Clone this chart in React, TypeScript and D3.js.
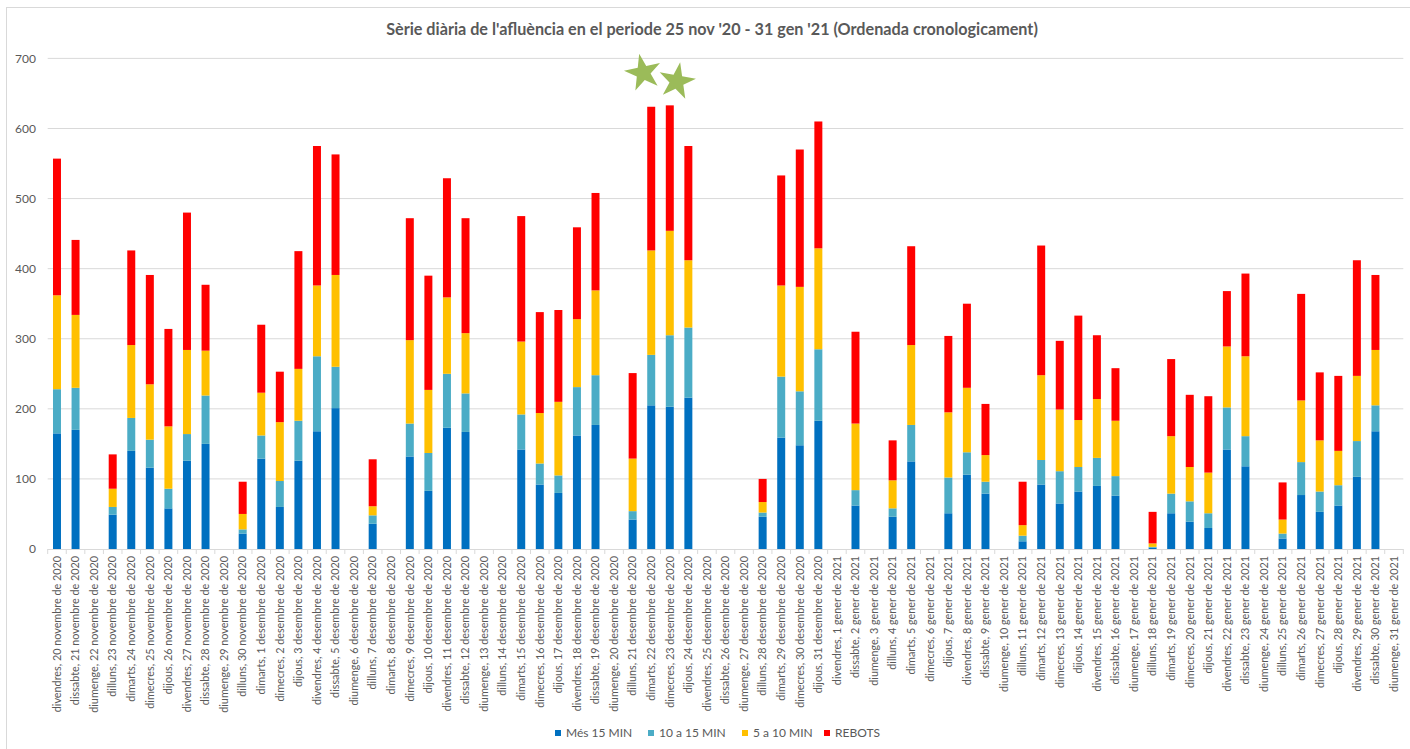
import React from "react";
import * as d3 from "d3";

const categories: string[] = [
  "divendres, 20 novembre de 2020", "dissabte, 21 novembre de 2020", "diumenge, 22 novembre de 2020",
  "dilluns, 23 novembre de 2020", "dimarts, 24 novembre de 2020", "dimecres, 25 novembre de 2020",
  "dijous, 26 novembre de 2020", "divendres, 27 novembre de 2020", "dissabte, 28 novembre de 2020",
  "diumenge, 29 novembre de 2020", "dilluns, 30 novembre de 2020",
  "dimarts, 1 desembre de 2020", "dimecres, 2 desembre de 2020", "dijous, 3 desembre de 2020",
  "divendres, 4 desembre de 2020", "dissabte, 5 desembre de 2020", "diumenge, 6 desembre de 2020",
  "dilluns, 7 desembre de 2020", "dimarts, 8 desembre de 2020", "dimecres, 9 desembre de 2020",
  "dijous, 10 desembre de 2020", "divendres, 11 desembre de 2020", "dissabte, 12 desembre de 2020",
  "diumenge, 13 desembre de 2020", "dilluns, 14 desembre de 2020", "dimarts, 15 desembre de 2020",
  "dimecres, 16 desembre de 2020", "dijous, 17 desembre de 2020", "divendres, 18 desembre de 2020",
  "dissabte, 19 desembre de 2020", "diumenge, 20 desembre de 2020", "dilluns, 21 desembre de 2020",
  "dimarts, 22 desembre de 2020", "dimecres, 23 desembre de 2020", "dijous, 24 desembre de 2020",
  "divendres, 25 desembre de 2020", "dissabte, 26 desembre de 2020", "diumenge, 27 desembre de 2020",
  "dilluns, 28 desembre de 2020", "dimarts, 29 desembre de 2020", "dimecres, 30 desembre de 2020",
  "dijous, 31 desembre de 2020",
  "divendres, 1 gener de 2021", "dissabte, 2 gener de 2021", "diumenge, 3 gener de 2021",
  "dilluns, 4 gener de 2021", "dimarts, 5 gener de 2021", "dimecres, 6 gener de 2021",
  "dijous, 7 gener de 2021", "divendres, 8 gener de 2021", "dissabte, 9 gener de 2021",
  "diumenge, 10 gener de 2021", "dilluns, 11 gener de 2021", "dimarts, 12 gener de 2021",
  "dimecres, 13 gener de 2021", "dijous, 14 gener de 2021", "divendres, 15 gener de 2021",
  "dissabte, 16 gener de 2021", "diumenge, 17 gener de 2021", "dilluns, 18 gener de 2021",
  "dimarts, 19 gener de 2021", "dimecres, 20 gener de 2021", "dijous, 21 gener de 2021",
  "divendres, 22 gener de 2021", "dissabte, 23 gener de 2021", "diumenge, 24 gener de 2021",
  "dilluns, 25 gener de 2021", "dimarts, 26 gener de 2021", "dimecres, 27 gener de 2021",
  "dijous, 28 gener de 2021", "divendres, 29 gener de 2021", "dissabte, 30 gener de 2021",
  "diumenge, 31 gener de 2021",
];

const mes15: number[] = [
  165, 170, 0, 49, 140, 116, 58, 126, 150, 0,
  22, 129, 60, 126, 168, 201, 0, 36, 0, 132,
  83, 173, 167, 0, 0, 142, 92, 80, 162, 177,
  0, 42, 205, 203, 216, 0, 0, 0, 46, 159,
  148, 183, 0, 62, 0, 46, 125, 0, 51, 106,
  79, 0, 11, 92, 65, 82, 90, 76, 0, 2,
  51, 39, 30, 142, 118, 0, 15, 77, 53, 62,
  103, 168, 0,
];
const de10a15: number[] = [
  63, 60, 0, 11, 47, 40, 28, 38, 69, 0,
  6, 33, 37, 57, 107, 59, 0, 12, 0, 47,
  54, 77, 55, 0, 0, 50, 30, 25, 69, 71,
  0, 12, 72, 102, 100, 0, 0, 0, 6, 87,
  77, 102, 0, 22, 0, 12, 52, 0, 51, 32,
  17, 0, 8, 35, 46, 35, 40, 28, 0, 1,
  28, 29, 21, 60, 43, 0, 7, 47, 29, 29,
  51, 37, 0,
];
const de5a10: number[] = [
  134, 104, 0, 26, 104, 79, 89, 120, 64, 0,
  22, 61, 84, 74, 101, 131, 0, 13, 0, 119,
  90, 109, 86, 0, 0, 104, 72, 105, 97, 121,
  0, 75, 149, 149, 96, 0, 0, 0, 15, 130,
  149, 144, 0, 95, 0, 40, 114, 0, 93, 92,
  38, 0, 15, 121, 88, 67, 84, 79, 0, 5,
  82, 49, 58, 87, 114, 0, 20, 88, 73, 49,
  93, 79, 0,
];
const rebots: number[] = [
  195, 107, 0, 49, 135, 156, 139, 196, 94, 0,
  46, 97, 72, 168, 199, 172, 0, 67, 0, 174,
  163, 170, 164, 0, 0, 179, 144, 131, 131, 139,
  0, 122, 205, 179, 163, 0, 0, 0, 33, 157,
  196, 181, 0, 131, 0, 57, 141, 0, 109, 120,
  73, 0, 62, 185, 98, 149, 91, 75, 0, 45,
  110, 103, 109, 79, 118, 0, 53, 152, 97, 107,
  165, 107, 0,
];

const seriesNames: string[] = ["Més 15 MIN", "10 a 15 MIN", "5 a 10 MIN", "REBOTS"];
const seriesColors: string[] = ["#0070C0", "#4BACC6", "#FFC000", "#FF0000"];
const yTicks: number[] = [0, 100, 200, 300, 400, 500, 600, 700];
const starredDays: string[] = ["dimarts, 22 desembre de 2020", "dimecres, 23 desembre de 2020"];

const title = "Sèrie diària de l'afluència en el periode 25 nov '20 - 31 gen '21 (Ordenada cronologicament)";

export default function App() {
  const W = 1410;
  const H = 749;
  const left = 47.7;
  const right = 1403.3;
  const top = 58.4;
  const bottom = 549;
  const font = "Lato, 'Open Sans', sans-serif";
  const grey = "#595959";

  const keys = ["a", "b", "c", "d"];
  const rows = categories.map((c, i) => ({
    cat: c,
    a: mes15[i],
    b: de10a15[i],
    c: de5a10[i],
    d: rebots[i],
  }));
  const stacked = d3.stack<any>().keys(keys)(rows);

  const x = d3.scaleBand<string>().domain(categories).range([left, right]).paddingInner(0.57).paddingOuter(0.285);
  const step = x.step();
  const y = d3.scaleLinear().domain([0, 700]).range([bottom, top]);

  const starPath = d3.symbol().type(d3.symbolStar).size(420)() as string;
  const starOffsets = [
    { dx: -8, dy: -34, rot: -12 },
    { dx: 7, dy: -24, rot: 10 },
  ];

  const legendX = [555, 648, 742, 824];

  return (
    <svg width={W} height={H} style={{ position: "absolute", left: 0, top: 0, background: "#fff" }}>
      <rect x={6.5} y={7.5} width={W + 20} height={H + 20} fill="#fff" stroke="#D9D9D9" strokeWidth={1} />
      <text x={712} y={35} textAnchor="middle" fontFamily={font} fontWeight="bold" fontSize={16.2} fill={grey}>
        {title}
      </text>
      {yTicks.map((t) => (
        <g key={t}>
          {t > 0 && (
            <line x1={left} x2={right} y1={y(t)} y2={y(t)} stroke="#D9D9D9" strokeWidth={1} />
          )}
          <text x={36} y={y(t)} dy="0.35em" textAnchor="end" fontFamily={font} fontSize={12} fill={grey}>
            {t}
          </text>
        </g>
      ))}
      {stacked.map((s, si) => (
        <g key={si} fill={seriesColors[si]}>
          {s.map((d: any, i: number) => {
            const h = y(d[0]) - y(d[1]);
            if (h <= 0) return null;
            return (
              <rect key={i} x={x(categories[i])!} y={y(d[1])} width={x.bandwidth()} height={h} />
            );
          })}
        </g>
      ))}
      <line x1={left} x2={right} y1={bottom + 0.5} y2={bottom + 0.5} stroke="#D9D9D9" strokeWidth={1} />
      {categories.map((c, i) => (
        <line
          key={"t" + i}
          x1={left + step * i}
          x2={left + step * i}
          y1={bottom}
          y2={bottom + 5}
          stroke="#D9D9D9"
          strokeWidth={1}
        />
      ))}
      <line x1={right} x2={right} y1={bottom} y2={bottom + 5} stroke="#D9D9D9" strokeWidth={1} />
      {categories.map((c) => {
        const cx = x(c)! + x.bandwidth() / 2;
        return (
          <text
            key={"l" + c}
            transform={`translate(${cx},${bottom + 7}) rotate(-90)`}
            dy="0.35em"
            textAnchor="end"
            fontFamily={font}
            fontSize={10.8}
            fill={grey}
          >
            {c}
          </text>
        );
      })}
      {starredDays.map((c, k) => {
        const i = categories.indexOf(c);
        const total = mes15[i] + de10a15[i] + de5a10[i] + rebots[i];
        const cx = x(c)! + x.bandwidth() / 2 + starOffsets[k].dx;
        const cy = y(total) + starOffsets[k].dy;
        return (
          <path
            key={"s" + c}
            d={starPath}
            transform={`translate(${cx},${cy}) rotate(${starOffsets[k].rot})`}
            fill="#9BBB59"
          />
        );
      })}
      {seriesNames.map((n, i) => (
        <g key={n} transform={`translate(${legendX[i]},733)`}>
          <rect x={0} y={-3} width={6} height={6} fill={seriesColors[i]} />
          <text x={11} y={0} dy="0.35em" fontFamily={font} fontSize={12} fill={grey}>
            {n}
          </text>
        </g>
      ))}
    </svg>
  );
}
